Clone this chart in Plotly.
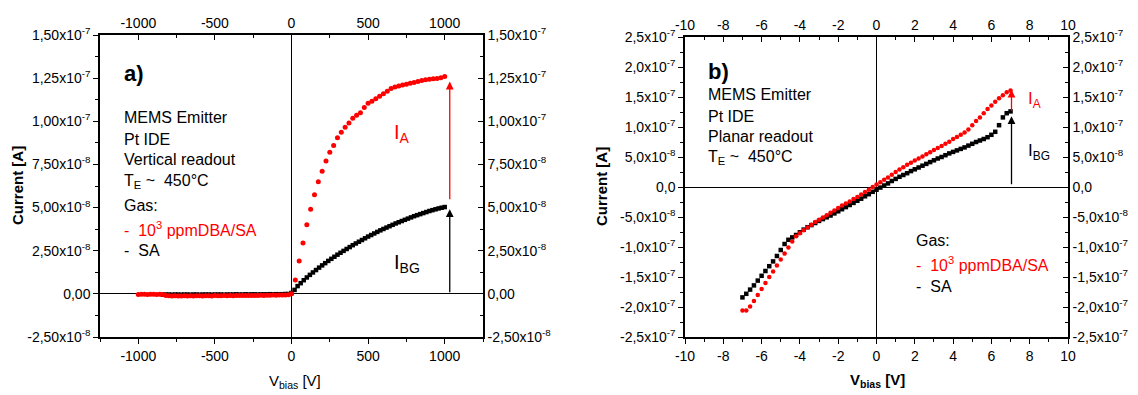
import numpy as np
import plotly.graph_objects as go

W, H = 1138, 395
FONT = "Arial, Liberation Sans, sans-serif"
RED = "#ff0000"

# ---------------- Panel a) data (V in volts, I in nA) ----------------
a_red_neg_V = np.arange(-1000, 0, 20)
a_red_neg_I = [-0.4, -0.3, -0.3, -0.4, -0.3, -0.3, -0.4, -0.3, -0.4, -1.0,
               -1.1, -1.2, -1.1, -1.2, -1.2, -1.1, -1.2, -1.1, -1.2, -1.1,
               -1.1, -1.2, -1.1, -1.1, -1.2, -1.0, -1.1, -1.1, -1.0, -1.1,
               -1.0, -1.1, -1.0, -1.0, -0.9, -1.0, -0.9, -0.9, -1.0, -0.9,
               -0.8, -0.9, -0.8, -0.8, -0.7, -0.8, -0.7, -0.6, -0.6, -0.5]
a_red_pos_V = np.arange(0, 1001, 25)
a_red_pos_I = [0.0, 8, 19, 29.5, 40, 49, 57.5, 65, 71, 77,
               82, 86, 90.5, 93.7, 96.6, 99, 101.8, 103.5, 105, 108,
               110.5, 111.6, 113, 114.5, 116, 117.4, 119, 119.8, 120.5, 121,
               121.5, 122, 122.5, 123, 123.6, 124, 124.4, 124.6, 124.8, 125.2,
               126]
a_blk_neg_V = np.arange(-840, 0, 20)
a_blk_neg_I = [-0.5, -0.4, -0.4, -0.5, -0.4, -0.4, -0.5, -0.4, -0.4, -0.5,
               -0.4, -0.4, -0.5, -0.4, -0.4, -0.4, -0.5, -0.4, -0.4, -0.4,
               -0.5, -0.4, -0.4, -0.4, -0.3, -0.4, -0.4, -0.3, -0.4, -0.3,
               -0.3, -0.4, -0.3, -0.3, -0.3, -0.2, -0.3, -0.2, -0.2, -0.2,
               -0.1, -0.1]
a_blk_pos_V = np.arange(0, 1001, 20)
a_blk_pos_I = [0.5, 2.3, 4.5, 6.2, 7.9, 9.5, 11.0, 12.4, 13.8, 15.2,
               16.5, 17.8, 19.1, 20.3, 21.5, 22.7, 23.8, 24.9, 26.0, 27.1,
               28.2, 29.2, 30.2, 31.2, 32.2, 33.2, 34.1, 35.0, 35.9, 36.8,
               37.6, 38.4, 39.2, 40.0, 40.8, 41.5, 42.2, 42.9, 43.6, 44.3,
               45.0, 45.6, 46.2, 46.8, 47.4, 48.0, 48.5, 49.0, 49.5, 49.9,
               50.3]

a_xticks = [-1000, -500, 0, 500, 1000]
a_yticks = [150, 125, 100, 75, 50, 25, 0, -25]
a_ylabels = ["1,50x10<sup>-7</sup>", "1,25x10<sup>-7</sup>", "1,00x10<sup>-7</sup>",
             "7,50x10<sup>-8</sup>", "5,00x10<sup>-8</sup>", "2,50x10<sup>-8</sup>",
             "0,00", "-2,50x10<sup>-8</sup>"]

# ---------------- Panel b) data ----------------
b_V = np.round(np.arange(-7.0, 7.01, 0.2), 2)
b_red_I = [-206, -206, -199, -190, -180, -170, -160, -150, -141, -131,
           -121, -111, -101, -91, -82, -77, -72, -67.5, -63, -58.5,
           -54.5, -51, -47, -43, -39, -35, -31, -27.5, -24, -20,
           -16.5, -12.5, -8.5, -4.5, 0,
           4,
           8, 12, 16, 20.5, 25, 29, 33, 37, 40.5, 44,
           47.5, 51, 54.5, 58, 61.5, 65, 68.5, 72, 75.5, 80,
           83.5, 87, 91, 96, 103, 110, 116, 123, 130, 136,
           142, 148, 153, 158, 161]
b_blk_I = [-184, -178, -171, -164, -156, -148, -140, -132, -124, -115,
           -105, -95, -88, -84, -80, -75.5, -71, -67, -63.5, -60,
           -56.5, -53.5, -50.5, -47.5, -44, -40.5, -37, -33.5, -30, -26.5,
           -23, -19.5, -15.5, -12, -8,
           -4.5,
           -1, 2.5, 6, 10, 13.5, 17, 20, 23, 26.5, 29.5,
           32.5, 35.5, 38.5, 41.5, 44.5, 47.5, 50, 53, 56, 58.5,
           61, 63.5, 66, 69, 72, 75, 77.5, 80, 83, 87,
           92, 103, 116, 123, 126]

b_xticks = [-10, -8, -6, -4, -2, 0, 2, 4, 6, 8, 10]
b_yticks = [250, 200, 150, 100, 50, 0, -50, -100, -150, -200, -250]
b_ylabels = ["2,5x10<sup>-7</sup>", "2,0x10<sup>-7</sup>", "1,5x10<sup>-7</sup>",
             "1,0x10<sup>-7</sup>", "5,0x10<sup>-8</sup>", "0,0",
             "-5,0x10<sup>-8</sup>", "-1,0x10<sup>-7</sup>", "-1,5x10<sup>-7</sup>",
             "-2,0x10<sup>-7</sup>", "-2,5x10<sup>-7</sup>"]


def px(x):
    return x / W


def py(y):
    return 1 - y / H


fig = go.Figure()

# panel a traces
fig.add_trace(go.Scatter(x=a_blk_neg_V, y=a_blk_neg_I, mode="markers", xaxis="x", yaxis="y",
                         marker=dict(symbol="square", size=4.5, color="black"), showlegend=False))
fig.add_trace(go.Scatter(x=a_blk_pos_V, y=a_blk_pos_I, mode="markers", xaxis="x", yaxis="y",
                         marker=dict(symbol="square", size=4.5, color="black"), showlegend=False))
fig.add_trace(go.Scatter(x=a_red_neg_V, y=a_red_neg_I, mode="markers", xaxis="x", yaxis="y",
                         marker=dict(symbol="circle", size=5, color=RED), showlegend=False))
fig.add_trace(go.Scatter(x=a_red_pos_V, y=a_red_pos_I, mode="markers", xaxis="x", yaxis="y",
                         marker=dict(symbol="circle", size=5, color=RED), showlegend=False))
fig.add_trace(go.Scatter(x=[], y=[], xaxis="x2", yaxis="y2", showlegend=False))

# panel b traces
fig.add_trace(go.Scatter(x=b_V, y=b_blk_I, mode="markers", xaxis="x3", yaxis="y3",
                         marker=dict(symbol="square", size=4.5, color="black"), showlegend=False))
fig.add_trace(go.Scatter(x=b_V, y=b_red_I, mode="markers", xaxis="x3", yaxis="y3",
                         marker=dict(symbol="circle", size=4.5, color=RED), showlegend=False))
fig.add_trace(go.Scatter(x=[], y=[], xaxis="x4", yaxis="y4", showlegend=False))

tickfont = dict(family=FONT, size=14, color="black")


def xax(domain, rng, tickvals, minor_dt, side, ticks, zeroline, overlay=None, anchor="y"):
    d = dict(range=rng, tickmode="array", tickvals=tickvals, ticktext=[str(t) for t in tickvals],
             ticks=ticks, ticklen=5, tickwidth=1.2, tickcolor="black",
             minor=dict(ticks=ticks, ticklen=3, dtick=minor_dt, tick0=0, tickcolor="black", tickwidth=1),
             showline=True, linecolor="black", linewidth=1.5, showgrid=False,
             zeroline=zeroline, zerolinecolor="black", zerolinewidth=1, automargin=False,
             tickfont=tickfont, side=side, anchor=anchor, fixedrange=True)
    if overlay:
        d["overlaying"] = overlay
    else:
        d["domain"] = domain
    return d


def yax(domain, rng, tickvals, ticktext, minor_dt, side, ticks, zeroline, overlay=None, anchor="x"):
    d = dict(range=rng, tickmode="array", tickvals=tickvals, ticktext=ticktext,
             ticks=ticks, ticklen=5, tickwidth=1.2, tickcolor="black",
             minor=dict(ticks=ticks, ticklen=3, dtick=minor_dt, tick0=0, tickcolor="black", tickwidth=1),
             showline=True, linecolor="black", linewidth=1.5, showgrid=False,
             zeroline=zeroline, zerolinecolor="black", zerolinewidth=1, automargin=False,
             tickfont=tickfont, side=side, anchor=anchor, fixedrange=True)
    if overlay:
        d["overlaying"] = overlay
    else:
        d["domain"] = domain
    return d


a_xdom = [px(100), px(483)]
a_ydom = [py(337), py(35)]
b_xdom = [px(685), px(1068)]
b_ydom = [py(337), py(37)]

fig.update_layout(
    width=W, height=H, margin=dict(l=0, r=0, t=0, b=0, autoexpand=False),
    paper_bgcolor="white", plot_bgcolor="white",
    xaxis=xax(a_xdom, [-1250, 1250], a_xticks, 250, "bottom", "outside", True, anchor="y"),
    xaxis2=xax(a_xdom, [-1250, 1250], a_xticks, 250, "top", "inside", False, overlay="x", anchor="y"),
    yaxis=yax(a_ydom, [-25, 150], a_yticks, a_ylabels, 12.5, "left", "outside", True, anchor="x"),
    yaxis2=yax(a_ydom, [-25, 150], a_yticks, a_ylabels, 12.5, "right", "inside", False, overlay="y", anchor="x"),
    xaxis3=xax(b_xdom, [-10, 10], b_xticks, 1, "bottom", "outside", True, anchor="y3"),
    xaxis4=xax(b_xdom, [-10, 10], b_xticks, 1, "top", "inside", False, overlay="x3", anchor="y3"),
    yaxis3=yax(b_ydom, [-250, 250], b_yticks, b_ylabels, 25, "left", "outside", True, anchor="x3"),
    yaxis4=yax(b_ydom, [-250, 250], b_yticks, b_ylabels, 25, "right", "inside", False, overlay="y3", anchor="x3"),
)

ann = []


def text(x, y, s, size=16, color="black", xanchor="left", bold=False, angle=0):
    ann.append(dict(x=px(x), y=py(y), xref="paper", yref="paper", text=(f"<b>{s}</b>" if bold else s),
                    showarrow=False, xanchor=xanchor, yanchor="middle", textangle=angle,
                    font=dict(family=FONT, size=size, color=color)))


# axis titles
text(17, 186, "Current [A]", size=15, xanchor="center", bold=True, angle=-90)
text(295, 381, "V<sub>bias</sub> [V]", size=15, xanchor="center")
text(601, 187, "Current [A]", size=15, xanchor="center", bold=True, angle=-90)
text(877, 380, "V<sub>bias</sub> [V]", size=15, xanchor="center", bold=True)

# panel a labels
text(122, 73, "a)", size=22, bold=True)
text(122, 117, "MEMS Emitter")
text(122, 139, "Pt IDE")
text(122, 160, "Vertical readout")
text(122, 181, "T<sub>E</sub> ~  450°C")
text(122, 205, "Gas:")
text(122, 229, "-  10<sup>3</sup> ppmDBA/SA", color=RED)
text(122, 250, "-  SA")
text(392, 133, "I<sub>A</sub>", size=20, color=RED)
text(392, 263, "I<sub>BG</sub>", size=20)

# panel b labels
text(706, 72, "b)", size=22, bold=True)
text(706, 95, "MEMS Emitter")
text(706, 116, "Pt IDE")
text(706, 136, "Planar readout")
text(706, 157, "T<sub>E</sub> ~  450°C")
text(914, 240, "Gas:")
text(914, 264, "-  10<sup>3</sup> ppmDBA/SA", color=RED)
text(914, 286, "-  SA")
text(1026, 100, "I<sub>A</sub>", size=17, color=RED)
text(1026, 152, "I<sub>BG</sub>", size=17)

# arrows (data coordinates)
arrow_a = [(1033, 54, 123, RED), (1033, 0, 49, "black")]
arrow_b = [(7.05, 125, 162, RED), (7.05, 2, 118, "black")]
for xv, y0, y1, c in arrow_a:
    ann.append(dict(x=xv, y=y1, ax=xv, ay=y0, xref="x", yref="y", axref="x", ayref="y",
                    showarrow=True, arrowhead=2, arrowsize=1.2, arrowwidth=1.3, arrowcolor=c, text=""))
for xv, y0, y1, c in arrow_b:
    ann.append(dict(x=xv, y=y1, ax=xv, ay=y0, xref="x3", yref="y3", axref="x3", ayref="y3",
                    showarrow=True, arrowhead=2, arrowsize=1.2, arrowwidth=1.3, arrowcolor=c, text=""))

fig.update_layout(annotations=ann)
fig.write_html("out.html", config={"displayModeBar": False},
               post_script="document.body.style.margin='0px';document.body.style.overflow='hidden';")
